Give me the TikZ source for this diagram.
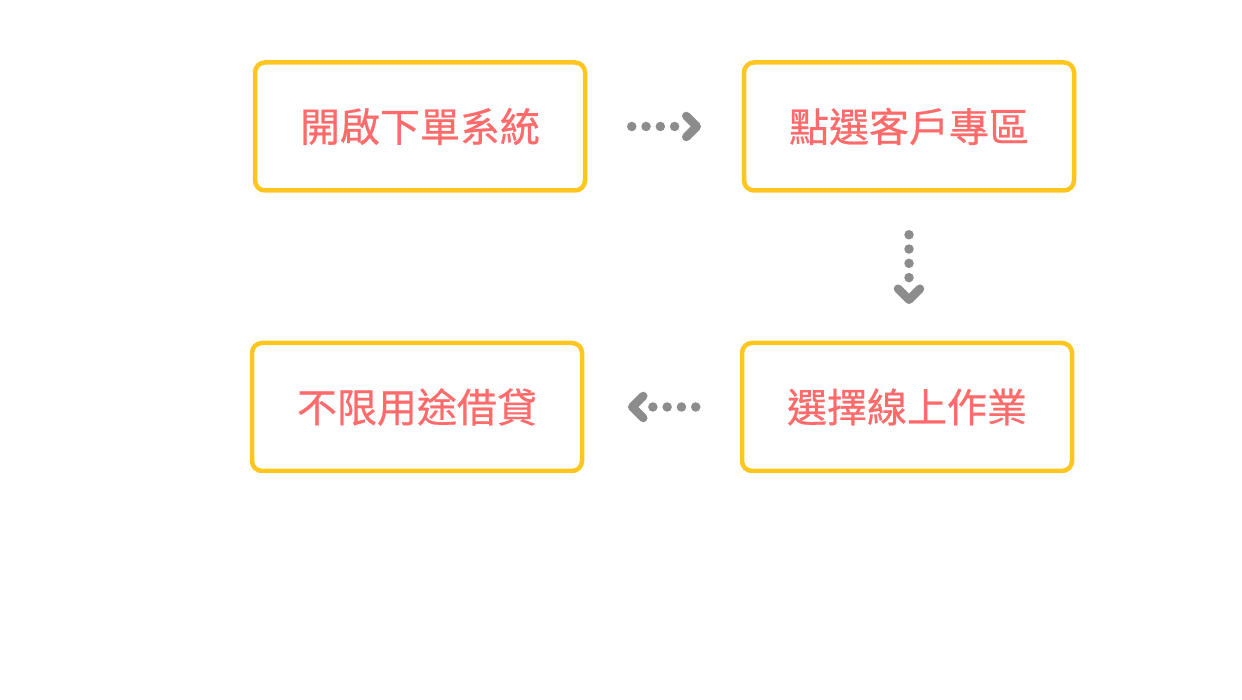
\documentclass[tikz,border=0pt]{standalone}
\usepackage{fontspec}
\newfontfamily\cjk[FakeBold=0.6]{Noto Sans CJK TC}
\usetikzlibrary{calc}
\definecolor{boxyellow}{HTML}{FFC620}
\definecolor{txtred}{HTML}{FF6B6B}
\definecolor{arrgray}{HTML}{8C8C8C}
\tikzset{
  stepbox/.style={draw=boxyellow, line width=4.5pt, rounded corners=10pt, minimum width=330pt, minimum height=128pt, inner sep=0pt, text=txtred, font=\cjk\fontsize{40pt}{48pt}\selectfont},
  dotline/.style={draw=arrgray, line width=9.5pt, line cap=round, dash pattern=on 0pt off 14.3pt},
  chev/.style={draw=arrgray, line width=8.5pt, line cap=round, line join=round},
}
\begin{document}
\begin{tikzpicture}[x=1pt,y=1pt]
\useasboundingbox (0,0) rectangle (1242,700);
\node[stepbox] (a) at (420,573.5) {開啟下單系統};
\node[stepbox] (b) at (909,573.5) {點選客戶專區};
\node[stepbox] (c) at (907,293) {選擇線上作業};
\node[stepbox] (d) at (417,293) {不限用途借貸};
% a -> b
\draw[dotline] ($(a.east)+(44.5,0)$) -- ($(b.west)+(-66.5,0)$);
\draw[chev] ($(b.west)+(-55.5,10.5)$) -- ($(b.west)+(-45,0)$) -- ($(b.west)+(-55.5,-10.5)$);
% b -> c
\draw[dotline] ($(b.south)+(0,-42)$) -- ($(c.north)+(2,62.5)$);
\draw[chev] ($(c.north)+(-9,52)$) -- ($(c.north)+(2,41)$) -- ($(c.north)+(13,52)$);
% c -> d
\draw[dotline] ($(c.west)+(-44,0)$) -- ($(d.east)+(66,0)$);
\draw[chev] ($(d.east)+(59,11)$) -- ($(d.east)+(48,0)$) -- ($(d.east)+(59,-11)$);
\end{tikzpicture}
\end{document}
